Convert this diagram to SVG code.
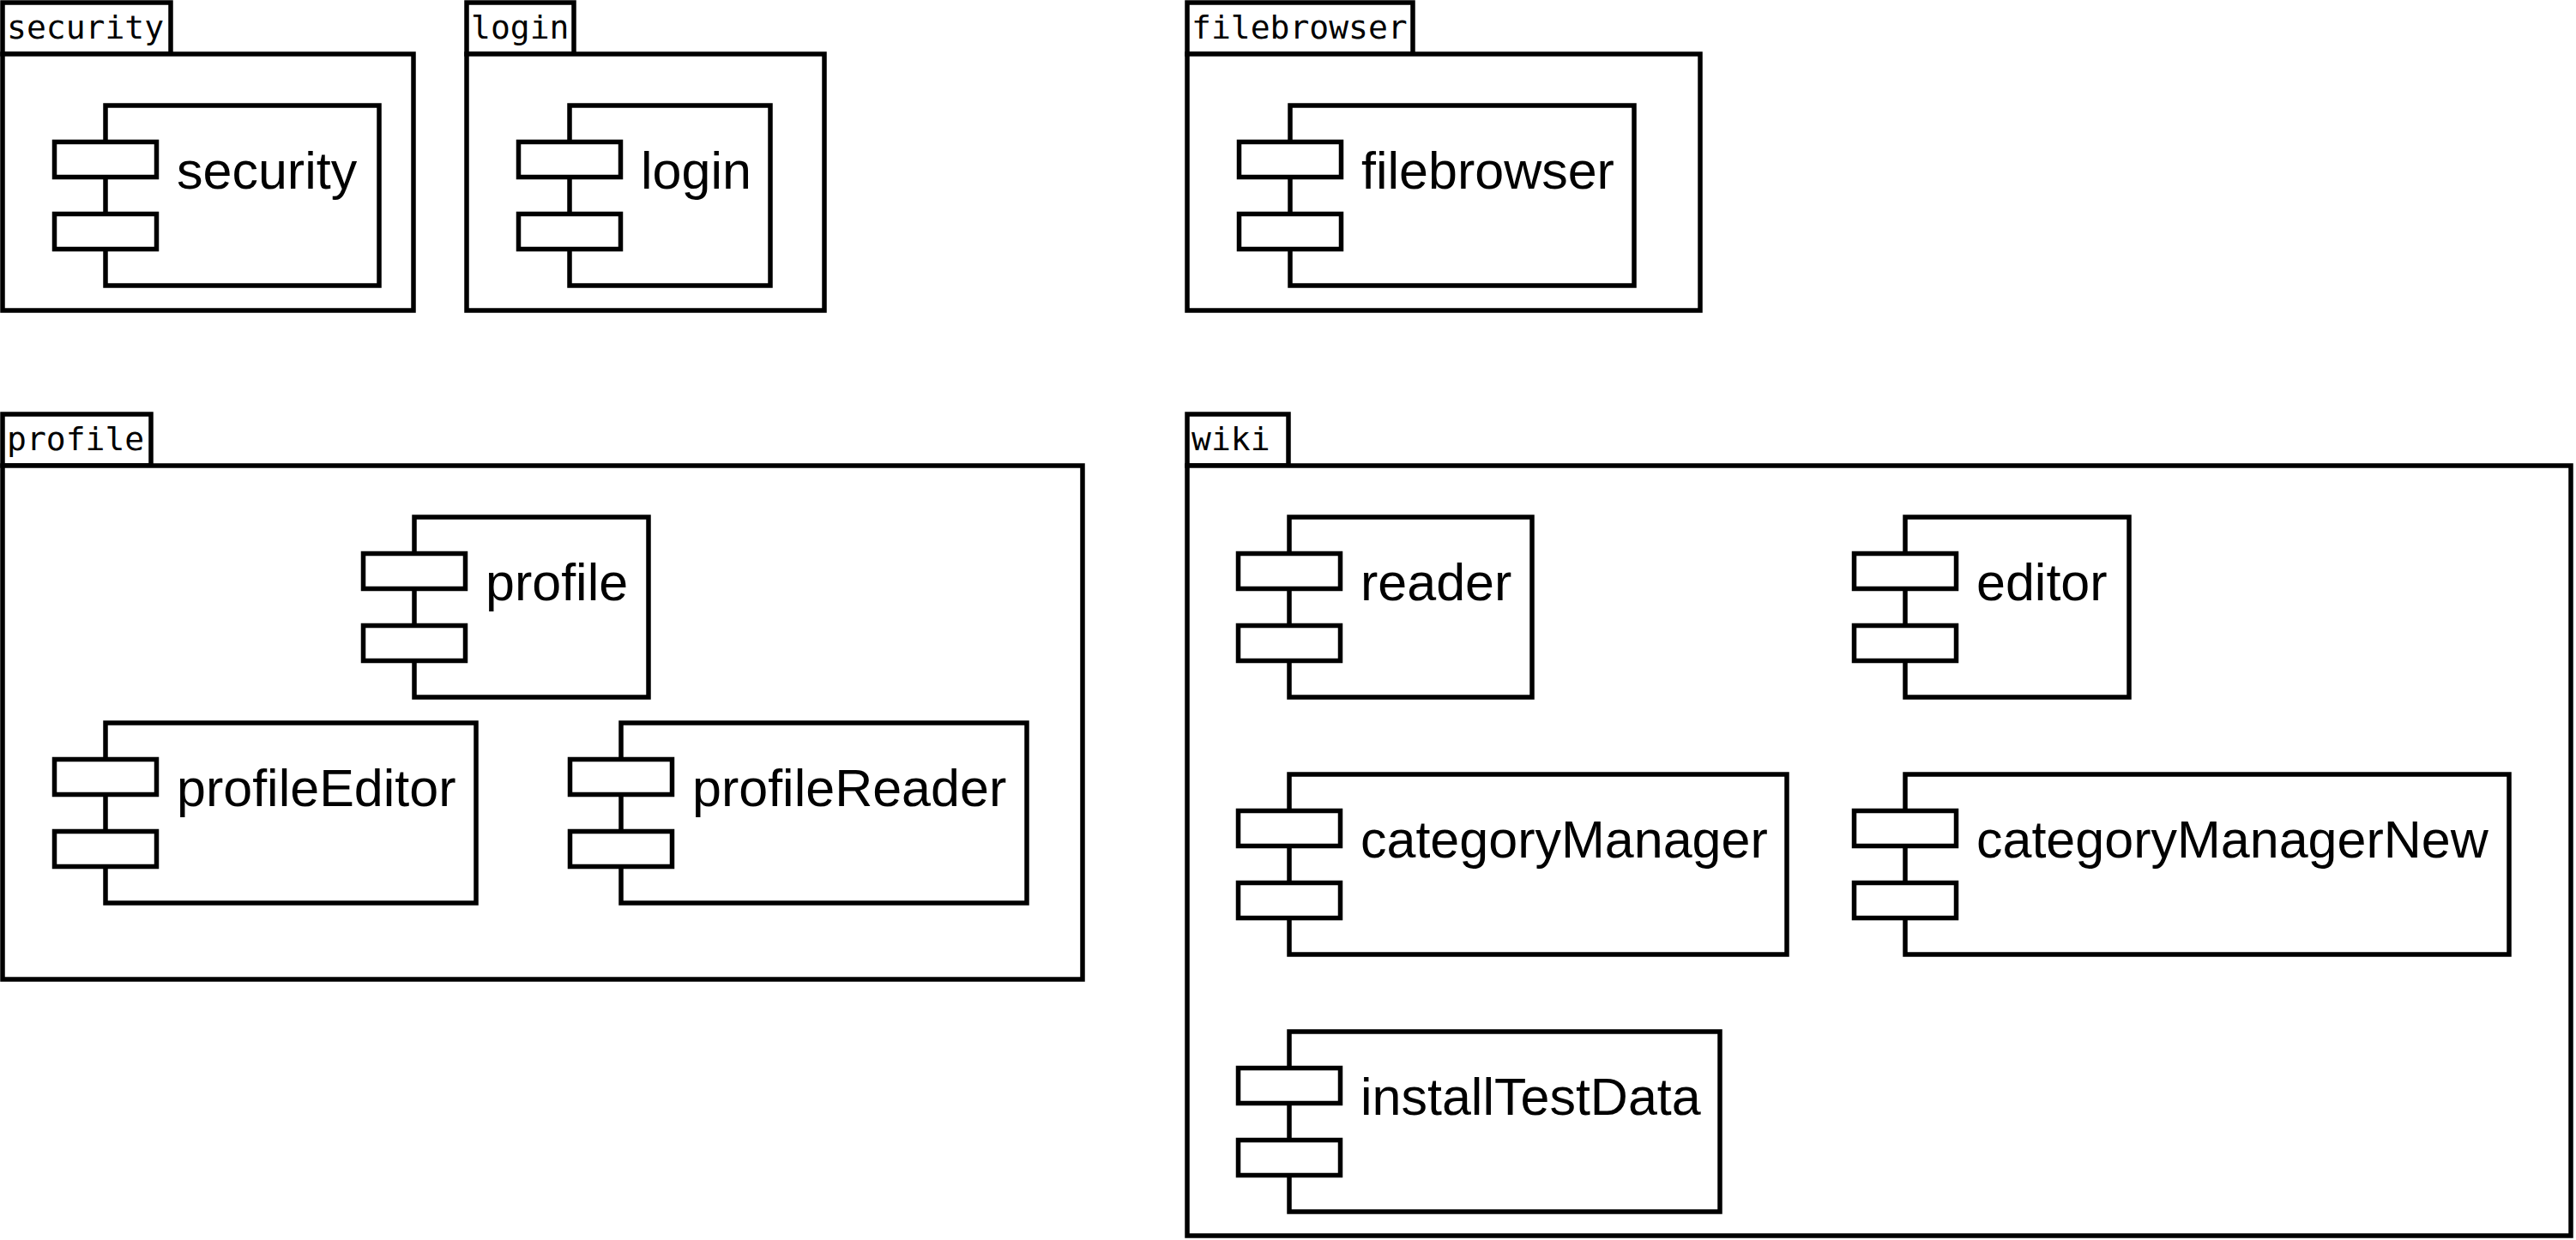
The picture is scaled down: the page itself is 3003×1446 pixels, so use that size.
<svg xmlns="http://www.w3.org/2000/svg" width="3003" height="1446" viewBox="0 0 3003 1446">
<style>
  .pk { fill: #ffffff; stroke: #000000; stroke-width: 5.5; }
  .cmp { fill: #ffffff; stroke: #000000; stroke-width: 5.5; }
  .tab { font-family: "DejaVu Sans Mono", "Liberation Mono", monospace; font-size: 38px; fill: #000000; }
  .lbl { font-family: "Liberation Sans", Arial, sans-serif; font-size: 61px; fill: #000000; }
</style>
<defs>
  <g id="ports">
    <rect class="cmp" x="-59.5" y="42.5" width="119" height="41"/>
    <rect class="cmp" x="-59.5" y="126.5" width="119" height="41"/>
  </g>
</defs>
<rect x="0" y="0" width="3003" height="1446" fill="#ffffff"/>

<g id="pkg-security">
  <rect class="pk" x="3" y="3" width="196" height="60"/>
  <rect class="pk" x="3" y="63" width="479" height="299"/>
  <text class="tab" x="8" y="45">security</text>
</g>
<g id="pkg-login">
  <rect class="pk" x="544" y="3" width="125" height="60"/>
  <rect class="pk" x="544" y="63" width="417" height="299"/>
  <text class="tab" x="549" y="45">login</text>
</g>
<g id="pkg-filebrowser">
  <rect class="pk" x="1384" y="3" width="263" height="60"/>
  <rect class="pk" x="1384" y="63" width="598" height="299"/>
  <text class="tab" x="1389" y="45">filebrowser</text>
</g>
<g id="pkg-profile">
  <rect class="pk" x="3" y="483" width="173" height="60"/>
  <rect class="pk" x="3" y="543" width="1259" height="599"/>
  <text class="tab" x="8" y="525">profile</text>
</g>
<g id="pkg-wiki">
  <rect class="pk" x="1384" y="483" width="118" height="60"/>
  <rect class="pk" x="1384" y="543" width="1613" height="898"/>
  <text class="tab" x="1389" y="525">wiki</text>
</g>

<g id="cmp-security" transform="translate(123,123)">
  <rect class="cmp" x="0" y="0" width="319" height="210"/>
  <use href="#ports"/>
  <text class="lbl" x="83" y="97">security</text>
</g>
<g id="cmp-login" transform="translate(664,123)">
  <rect class="cmp" x="0" y="0" width="234" height="210"/>
  <use href="#ports"/>
  <text class="lbl" x="83" y="97">login</text>
</g>
<g id="cmp-filebrowser" transform="translate(1504,123)">
  <rect class="cmp" x="0" y="0" width="401" height="210"/>
  <use href="#ports"/>
  <text class="lbl" x="83" y="97">filebrowser</text>
</g>
<g id="cmp-profile" transform="translate(483,603)">
  <rect class="cmp" x="0" y="0" width="273" height="210"/>
  <use href="#ports"/>
  <text class="lbl" x="83" y="97">profile</text>
</g>
<g id="cmp-profileEditor" transform="translate(123,843)">
  <rect class="cmp" x="0" y="0" width="432" height="210"/>
  <use href="#ports"/>
  <text class="lbl" x="83" y="97">profileEditor</text>
</g>
<g id="cmp-profileReader" transform="translate(724,843)">
  <rect class="cmp" x="0" y="0" width="473" height="210"/>
  <use href="#ports"/>
  <text class="lbl" x="83" y="97">profileReader</text>
</g>
<g id="cmp-reader" transform="translate(1503,603)">
  <rect class="cmp" x="0" y="0" width="283" height="210"/>
  <use href="#ports"/>
  <text class="lbl" x="83" y="97">reader</text>
</g>
<g id="cmp-editor" transform="translate(2221,603)">
  <rect class="cmp" x="0" y="0" width="261" height="210"/>
  <use href="#ports"/>
  <text class="lbl" x="83" y="97">editor</text>
</g>
<g id="cmp-categoryManager" transform="translate(1503,903)">
  <rect class="cmp" x="0" y="0" width="580" height="210"/>
  <use href="#ports"/>
  <text class="lbl" x="83" y="97">categoryManager</text>
</g>
<g id="cmp-categoryManagerNew" transform="translate(2221,903)">
  <rect class="cmp" x="0" y="0" width="704" height="210"/>
  <use href="#ports"/>
  <text class="lbl" x="83" y="97">categoryManagerNew</text>
</g>
<g id="cmp-installTestData" transform="translate(1503,1203)">
  <rect class="cmp" x="0" y="0" width="502" height="210"/>
  <use href="#ports"/>
  <text class="lbl" x="83" y="97">installTestData</text>
</g>

<g id="connectors"></g>
</svg>
